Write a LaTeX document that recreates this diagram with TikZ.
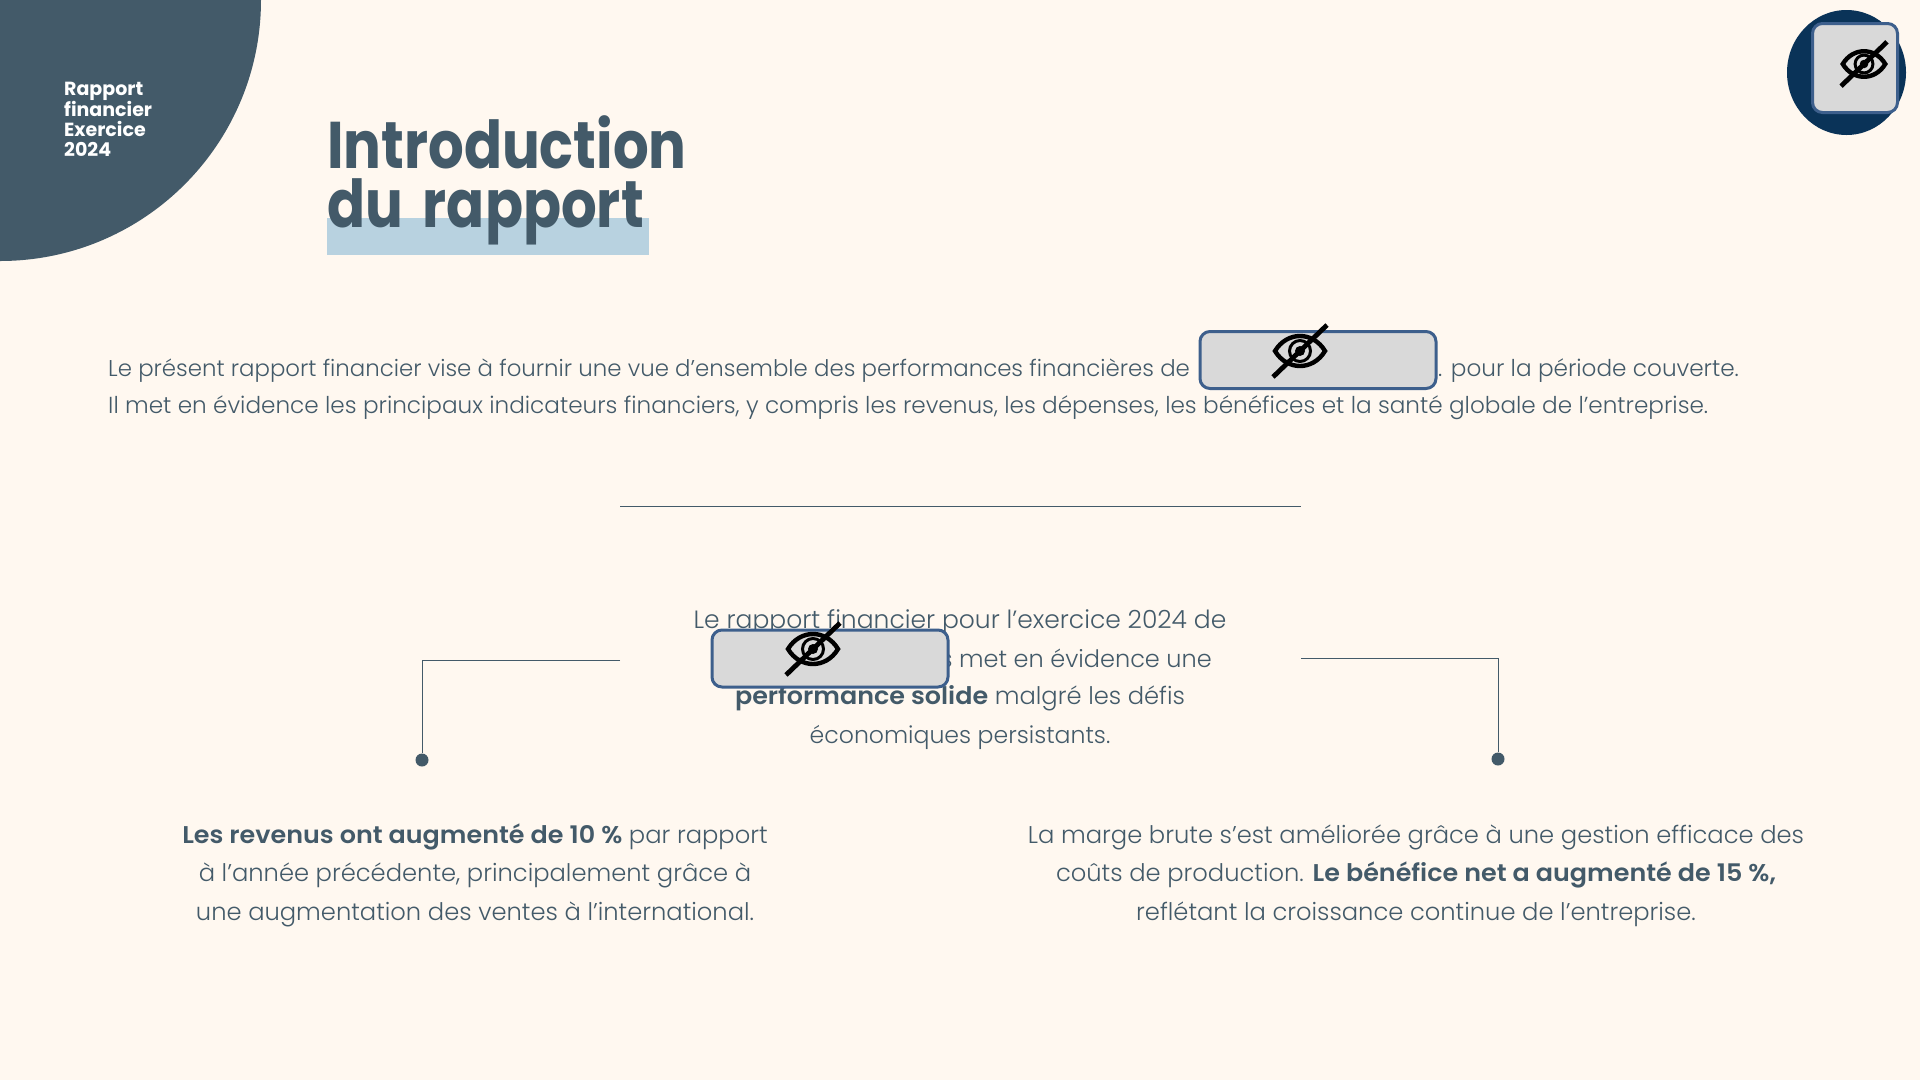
\documentclass[tikz,border=0pt]{standalone}
\usepackage{fontspec}
\setmainfont{Poppins Light}[BoldFont={Poppins SemiBold},BoldFeatures={FakeStretch=1.05}]
\newfontfamily\titlefont{Poppins Bold}[FakeStretch=0.85]
\newfontfamily\tagfont{Poppins Bold}[FakeStretch=1.0]
\definecolor{pageback}{HTML}{FFF8F0}
\definecolor{slate}{HTML}{435A69}
\definecolor{lightblue}{HTML}{B8D2E0}
\definecolor{navy}{HTML}{0A3358}
\definecolor{maskgray}{HTML}{D9D9D9}
\definecolor{maskedge}{HTML}{3D5F8C}
\tikzset{
  maskbox/.style={draw=maskedge, fill=maskgray, line width=3pt, rounded corners=10pt, minimum width=236pt, minimum height=57pt, inner sep=0pt},
  bodytext/.style={text=slate, font=\fontsize{24.2}{38.5}\selectfont, align=center, inner sep=0pt},
  introtext/.style={text=slate, font=\fontsize{23.15}{37}\selectfont, inner sep=0pt, anchor=base west},
  enddot/.style={circle, fill=slate, minimum size=13pt, inner sep=0pt},
  thinline/.style={draw=slate, line width=1pt},
  pics/eyeicon/.style={code={
    \draw[line width=4.4pt] (-25,0) .. controls (-13,-20) and (13,-20) .. (25,0) .. controls (13,20) and (-13,20) .. (-25,0) -- cycle;
    \draw[line width=3pt] (0,0) circle (10.5);
    \fill (0,0) circle (5);
    \draw[line width=4.8pt] (-27,26) -- (27,-26);
  }}
}
\begin{document}
\begin{tikzpicture}[x=1pt, y=-1pt]
   \useasboundingbox (0,0) rectangle (1920,1080);
   \fill[pageback] (0,0) rectangle (1920,1080);
   % corner shape with its tag
   \fill[slate] (0,0) -- (261,0) arc[start angle=0, end angle=90, radius=261] -- cycle;
   \node (tag) [anchor=base west, text=white, align=left, inner sep=0pt, font=\tagfont\fontsize{19}{19.7}\selectfont] at (64,156) {Rapport\\financier\\Exercice\\2024};
   % title
   \fill[lightblue] (327,218) rectangle (649,255);
   \node (title) [anchor=base west, text=slate, align=left, inner sep=0pt, font=\titlefont\fontsize{66}{59}\selectfont] at (327,227) {Introduction\\du\hspace{8pt} rapport};
   % first paragraph
   \node (introA) [introtext, font=\fontsize{22.85}{37}\selectfont] at (108,376) {Le présent rapport financier vise à fournir une vue d'ensemble des performances financières de};
   \node (introB) [introtext] at (1438,376) {. pour la période couverte.};
   \node (introC) [introtext] at (108,413) {Il met en évidence les principaux indicateurs financiers, y compris les revenus, les dépenses, les bénéfices et la santé globale de l'entreprise.};
   \node (maskA) [maskbox] at (1318,360) {};
   \pic at (1300,351) {eyeicon};
   % separator
   \coordinate (sepL) at (620,506);
   \coordinate (sepR) at (1301,506);
   \draw[thinline] (sepL) -- (sepR);
   % centre paragraph
   \node (centerA) [bodytext, anchor=base, font=\fontsize{25}{38.5}\selectfont] at (960,628) {Le rapport financier pour l’exercice 2024 de};
   \node (centerB) [bodytext, anchor=base east, font=\fontsize{24}{38.5}\selectfont] at (1212,667) {s met en évidence une};
   \node (centerC) [bodytext, anchor=base] at (960,704.5) {\textbf{performance solide} malgré les défis};
   \node (centerD) [bodytext, anchor=base, font=\fontsize{23.6}{38.5}\selectfont] at (960,743) {économiques persistants.};
   \node (maskB) [maskbox] at (830,658.5) {};
   \pic at (813,649) {eyeicon};
   % branches
   \coordinate (branchL) at (620,660);
   \node (dotL) [enddot] at (422,760) {};
   \draw[thinline] (branchL) -| (dotL);
   \coordinate (branchR) at (1301,658);
   \node (dotR) [enddot] at (1498,759) {};
   \draw[thinline] (branchR) -| (dotR);
   % bottom paragraphs
   \node (leftText) [bodytext, anchor=base] at (475,920) {\textbf{Les revenus ont augmenté de 10 \%} par rapport\\à l'année précédente, principalement grâce à\\une augmentation des ventes à l'international.};
   \node (rightText) [bodytext, anchor=base] at (1416,920) {La marge brute s'est améliorée grâce à une gestion efficace des\\coûts de production. \textbf{Le bénéfice net a augmenté de 15 \%,}\\reflétant la croissance continue de l'entreprise.};
   % corner badge
   \fill[navy] (1846.5,72.5) ellipse[x radius=59.5, y radius=62.5];
   \node (maskC) [maskbox, minimum width=85pt, minimum height=89pt] at (1855,68) {};
   \pic[scale=0.85] at (1864,64) {eyeicon};
\end{tikzpicture}
\end{document}
